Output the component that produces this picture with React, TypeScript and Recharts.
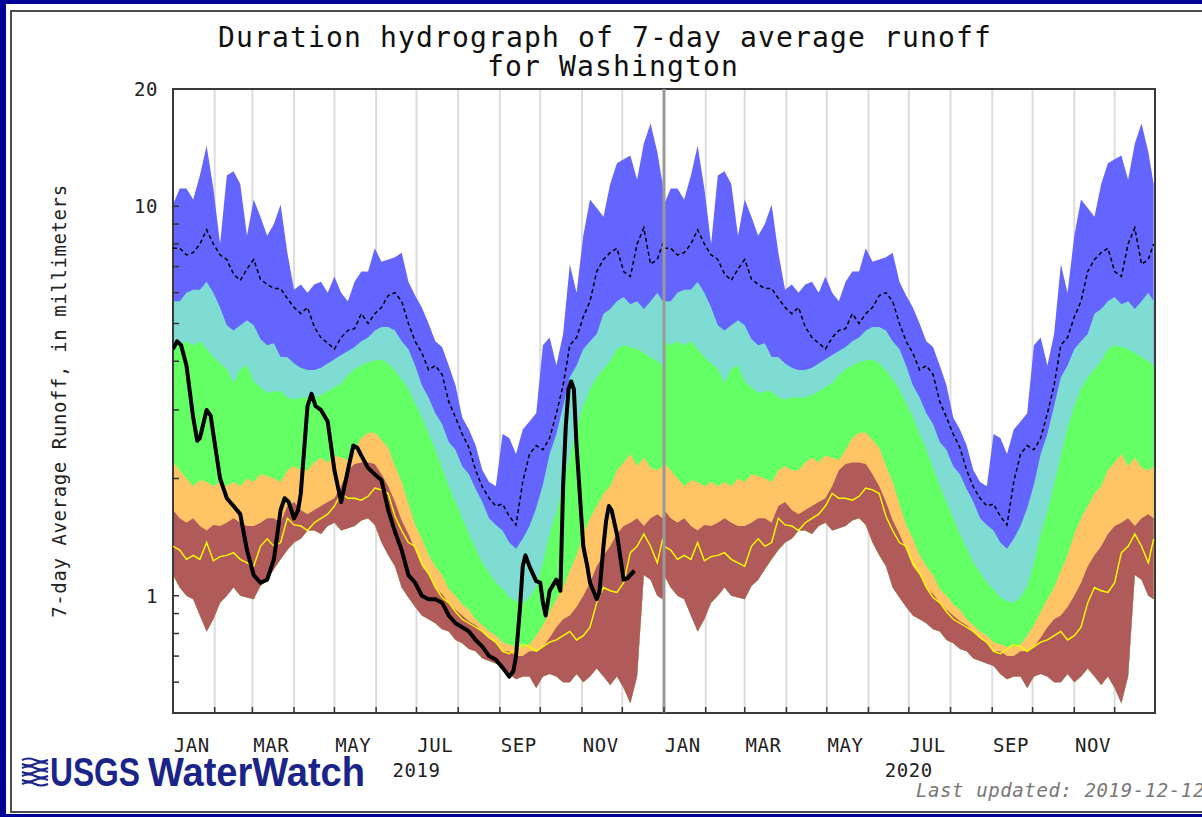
import {
  Area,
  CartesianGrid,
  ComposedChart,
  Line,
  ReferenceArea,
  ReferenceLine,
  XAxis,
  YAxis,
} from "recharts";

// day-of-year sample points for the percentile statistics (same every year)
const STAT_DAYS = [
  0, 5, 10, 15, 20, 25, 30, 35, 40, 45, 50, 55, 60, 65, 70, 75, 80, 85, 90, 95,
  100, 105, 110, 115, 120, 125, 130, 135, 140, 145, 150, 155, 160, 165, 170, 175,
  180, 185, 190, 195, 200, 205, 210, 215, 220, 225, 230, 235, 240, 245, 250, 255,
  260, 265, 270, 275, 280, 285, 290, 295, 300, 305, 310, 315, 320, 325, 330, 335,
  340, 345, 350, 355, 360, 364,
];

const MAX_RUNOFF = [
  10.1, 11.1, 11.1, 10.4, 12.0, 14.3, 11.1, 8.0, 12.0, 12.3, 11.4, 8.4, 10.4, 9.4,
  8.4, 9.0, 10.1, 7.6, 6.1, 6.3, 6.0, 6.3, 6.4, 6.0, 6.6, 6.0, 5.7, 6.4, 6.8, 6.8,
  7.8, 7.2, 7.3, 7.4, 7.6, 6.4, 5.9, 5.5, 5.0, 4.5, 4.35, 3.9, 3.47, 2.87, 2.67,
  2.43, 2.1, 1.96, 1.91, 2.6, 2.54, 2.31, 2.67, 2.8, 2.94, 4.4, 4.6, 3.9, 4.7, 7.1,
  6.0, 8.4, 10.4, 9.9, 9.4, 11.4, 12.9, 13.2, 13.5, 11.7, 14.5, 16.3, 13.8, 11.4,
];

const P90_RUNOFF = [
  5.7, 5.7, 6.0, 6.1, 6.1, 6.4, 6.0, 5.5, 4.95, 4.8, 4.95, 5.1, 4.95, 4.56, 4.4,
  4.45, 4.1, 4.1, 3.95, 3.85, 3.8, 3.8, 3.85, 3.95, 4.05, 4.15, 4.25, 4.35, 4.5,
  4.6, 4.8, 4.9, 4.9, 4.8, 4.5, 4.3, 3.9, 3.47, 3.23, 2.94, 2.76, 2.48, 2.37, 2.15,
  2.05, 1.88, 1.74, 1.58, 1.52, 1.47, 1.37, 1.32, 1.4, 1.51, 1.68, 1.93, 2.31, 2.6,
  3.07, 3.64, 3.9, 4.3, 4.5, 4.7, 5.3, 5.45, 5.7, 5.85, 5.6, 5.7, 5.45, 5.7, 6.0,
  5.7,
];

const P75_RUNOFF = [
  4.5, 4.4, 4.5, 4.4, 4.5, 4.3, 4.1, 3.95, 3.82, 3.51, 3.82, 3.9, 3.55, 3.43, 3.31,
  3.35, 3.35, 3.23, 3.19, 3.23, 3.23, 3.23, 3.27, 3.35, 3.43, 3.51, 3.68, 3.82,
  3.9, 3.98, 4.02, 4.04, 3.95, 3.78, 3.59, 3.39, 3.12, 2.87, 2.6, 2.37, 2.13, 1.91,
  1.74, 1.58, 1.44, 1.32, 1.215, 1.145, 1.08, 1.04, 0.99, 0.97, 0.96, 0.99, 1.06,
  1.215, 1.44, 1.64, 1.93, 2.29, 2.7, 3.07, 3.39, 3.64, 3.82, 4.0, 4.3, 4.4, 4.35,
  4.3, 4.2, 4.1, 4.0, 3.9,
];

const P25_RUNOFF = [
  2.2, 2.1, 2.0, 1.91, 1.98, 1.96, 1.91, 1.96, 1.91, 1.96, 1.91, 2.0, 1.96, 2.05,
  2.03, 2.0, 1.96, 2.1, 2.15, 2.1, 2.1, 2.2, 2.26, 2.2, 2.29, 2.26, 2.23, 2.37,
  2.54, 2.62, 2.62, 2.51, 2.4, 2.15, 1.96, 1.72, 1.52, 1.4, 1.27, 1.19, 1.13, 1.04,
  1.0, 0.95, 0.92, 0.87, 0.84, 0.81, 0.79, 0.76, 0.75, 0.74, 0.74, 0.75, 0.79,
  0.84, 0.91, 0.98, 1.05, 1.16, 1.27, 1.44, 1.58, 1.7, 1.83, 1.91, 2.1, 2.2, 2.31,
  2.15, 2.26, 2.13, 2.1, 2.15,
];

const P10_RUNOFF = [
  1.66, 1.58, 1.54, 1.58, 1.51, 1.47, 1.52, 1.51, 1.54, 1.58, 1.54, 1.51, 1.51,
  1.54, 1.58, 1.58, 1.54, 1.7, 1.74, 1.66, 1.62, 1.66, 1.7, 1.74, 1.78, 1.91, 2.1,
  2.18, 2.2, 2.2, 2.18, 2.05, 1.91, 1.74, 1.56, 1.44, 1.31, 1.19, 1.13, 1.05, 1.01,
  0.96, 0.92, 0.89, 0.86, 0.84, 0.81, 0.78, 0.755, 0.72, 0.72, 0.7, 0.7, 0.72,
  0.72, 0.74, 0.78, 0.83, 0.87, 0.89, 0.935, 1.0, 1.08, 1.19, 1.27, 1.34, 1.44,
  1.51, 1.54, 1.58, 1.51, 1.58, 1.62, 1.58,
];

const MIN_RUNOFF = [
  1.13, 1.05, 1.0, 0.98, 0.89, 0.81, 0.87, 0.96, 1.0, 1.05, 1.0, 0.99, 0.98, 1.06,
  1.1, 1.17, 1.24, 1.31, 1.37, 1.4, 1.47, 1.47, 1.44, 1.51, 1.54, 1.47, 1.49, 1.51,
  1.56, 1.58, 1.52, 1.37, 1.27, 1.19, 1.05, 0.99, 0.935, 0.89, 0.87, 0.85, 0.82,
  0.81, 0.77, 0.755, 0.73, 0.72, 0.69, 0.68, 0.67, 0.66, 0.63, 0.61, 0.62, 0.62,
  0.58, 0.62, 0.63, 0.62, 0.6, 0.6, 0.63, 0.6, 0.62, 0.65, 0.62, 0.59, 0.62, 0.58,
  0.53, 0.62, 1.13, 1.1, 1.0, 0.98,
];

const MEDIAN_LINE = [
  1.34, 1.31, 1.24, 1.27, 1.24, 1.37, 1.23, 1.26, 1.27, 1.29, 1.24, 1.215, 1.19,
  1.34, 1.4, 1.34, 1.37, 1.58, 1.52, 1.51, 1.47, 1.54, 1.58, 1.62, 1.7, 1.83, 1.78,
  1.78, 1.76, 1.8, 1.89, 1.87, 1.83, 1.6, 1.47, 1.37, 1.34, 1.215, 1.145, 1.05,
  0.99, 0.96, 0.91, 0.87, 0.85, 0.83, 0.81, 0.78, 0.76, 0.72, 0.71, 0.73, 0.75,
  0.74, 0.72, 0.74, 0.76, 0.77, 0.79, 0.81, 0.77, 0.79, 0.83, 0.96, 1.05, 1.03,
  1.02, 1.08, 1.29, 1.34, 1.44, 1.34, 1.215, 1.4,
];

const MEAN_LINE = [
  7.8, 7.8, 7.5, 7.6, 8.0, 8.7, 8.0, 7.5, 7.3, 6.7, 6.45, 6.9, 7.3, 6.5, 6.3, 6.15,
  6.15, 5.8, 5.5, 5.3, 5.5, 4.9, 4.6, 4.45, 4.3, 4.6, 4.8, 4.85, 5.3, 5.0, 5.3, 5.5,
  5.9, 6.0, 5.7, 5.0, 4.5, 4.2, 3.8, 3.9, 3.7, 3.15, 2.87, 2.6, 2.4, 2.1, 1.9, 1.78,
  1.7, 1.72, 1.6, 1.52, 1.96, 2.31, 2.43, 2.37, 2.54, 2.94, 3.47, 4.4, 4.6, 5.2,
  5.7, 6.8, 7.3, 7.6, 7.8, 6.8, 6.6, 8.0, 8.8, 7.1, 7.3, 8.0,
];

// 2019 observed 7-day runoff (through 2019-12-10)
const OBS_DAYS = [
  0, 3, 6, 10, 15, 18, 20, 25, 28, 30, 35, 40, 45, 50, 55, 60, 65, 70, 75, 80, 83,
  86, 90, 93, 95, 100, 103, 106, 110, 115, 120, 125, 130, 134, 137, 140, 145, 150,
  155, 160, 165, 170, 175, 180, 185, 190, 195, 200, 205, 210, 215, 220, 225, 230,
  235, 240, 245, 250, 253, 255, 258, 260, 262, 265, 270, 273, 275, 277, 280, 285,
  288, 290, 292, 294, 296, 298, 300, 303, 305, 308, 310, 313, 315, 317, 320, 322,
  324, 326, 330, 335, 338, 340, 343,
];
const OBS_RUNOFF = [
  4.3, 4.5, 4.4, 3.9, 2.87, 2.5, 2.54, 3.0, 2.9, 2.6, 2.0, 1.78, 1.7, 1.62, 1.31,
  1.13, 1.08, 1.1, 1.24, 1.66, 1.78, 1.74, 1.58, 1.66, 1.83, 3.07, 3.3, 3.07, 3.0,
  2.8, 2.1, 1.74, 2.1, 2.43, 2.4, 2.29, 2.13, 2.05, 1.98, 1.66, 1.46, 1.31, 1.13,
  1.08, 1.0, 0.98, 0.98, 0.96, 0.89, 0.85, 0.83, 0.81, 0.77, 0.74, 0.7, 0.685,
  0.654, 0.62, 0.64, 0.7, 0.935, 1.19, 1.27, 1.19, 1.09, 1.08, 0.96, 0.89, 1.03,
  1.1, 1.03, 1.91, 2.73, 3.39, 3.55, 3.39, 2.43, 1.7, 1.34, 1.19, 1.08, 1.02, 0.98,
  1.02, 1.34, 1.56, 1.7, 1.66, 1.44, 1.1, 1.11, 1.13, 1.16,
];

const YEAR_STARTS = [0, 365];
const YEARS = ["2019", "2020"];
const MONTH_STARTS = [
  [0, 31, 59, 90, 120, 151, 181, 212, 243, 273, 304, 334],
  [0, 31, 60, 91, 121, 152, 182, 213, 244, 274, 305, 335],
];
const MONTH_LABELS = ["JAN", "MAR", "MAY", "JUL", "SEP", "NOV"];
const LABEL_DAYS = [
  [14, 73, 134, 195, 257, 318],
  [14, 74, 135, 196, 258, 319],
];
const X_END = 730;

const Y_TICKS = [0.6, 0.7, 0.8, 0.9, 1, 2, 3, 4, 5, 6, 7, 8, 9, 10, 20];
const Y_LABELS = [1, 10, 20];

const MONO = "'DejaVu Sans Mono', monospace";

const statRows = YEAR_STARTS.flatMap((off) =>
  STAT_DAYS.map((d, i) => ({
    day: off + d,
    blue: [MIN_RUNOFF[i], MAX_RUNOFF[i]],
    cyan: [MIN_RUNOFF[i], P90_RUNOFF[i]],
    green: [MIN_RUNOFF[i], P75_RUNOFF[i]],
    orange: [MIN_RUNOFF[i], P25_RUNOFF[i]],
    brown: [MIN_RUNOFF[i], P10_RUNOFF[i]],
    median: MEDIAN_LINE[i],
    mean: MEAN_LINE[i],
  }))
);

const obsRows = OBS_DAYS.map((d, i) => ({ day: d, obs: OBS_RUNOFF[i] }));

const monthStartDays = YEAR_STARTS.flatMap((off, k) => MONTH_STARTS[k].map((d) => off + d));
const tickInfo = new Map<number, { tick?: boolean; label?: string; year?: string }>();
monthStartDays.forEach((d) => tickInfo.set(d, { tick: true }));
YEAR_STARTS.forEach((off, k) => {
  LABEL_DAYS[k].forEach((d, j) => tickInfo.set(off + d, { label: MONTH_LABELS[j] }));
  const jul = off + MONTH_STARTS[k][6];
  tickInfo.set(jul, { tick: true, year: YEARS[k] });
});
const X_TICKS = Array.from(tickInfo.keys()).sort((a, b) => a - b);

function XTick(props: any) {
  const { x, y, payload } = props;
  const info = tickInfo.get(payload.value) || {};
  return (
    <g>
      {info.tick && payload.value > 0 && (
        <line x1={x} x2={x} y1={y} y2={y - 6} stroke="#333" strokeWidth={1.5} />
      )}
      {info.label && (
        <text x={x} y={y + 39} textAnchor="middle" fontFamily={MONO} fontSize={19}
          letterSpacing={0.6} fill="#222">
          {info.label}
        </text>
      )}
      {info.year && (
        <text x={x} y={y + 64} textAnchor="middle" fontFamily={MONO} fontSize={19}
          letterSpacing={0.6} fill="#222">
          {info.year}
        </text>
      )}
    </g>
  );
}

function YTick(props: any) {
  const { x, y, payload } = props;
  const v = payload.value;
  return (
    <g>
      {v < 20 && <line x1={x} x2={x + 6} y1={y} y2={y} stroke="#333" strokeWidth={1.5} />}
      {Y_LABELS.includes(v) && (
        <text x={x - 15} y={y} dominantBaseline="central" textAnchor="end"
          fontFamily={MONO} fontSize={19} letterSpacing={0.6} fill="#222">
          {v}
        </text>
      )}
    </g>
  );
}

function Logo() {
  const waves = [0, 1, 2, 3, 4, 5, 6];
  return (
    <g>
      {waves.map((k) => (
        <path key={k} d={`M22 ${760 + k * 4} q7 ${k % 2 ? 3 : -3} 13 0 t13 0`}
          fill="none" stroke="#1b2589" strokeWidth={2.2} />
      ))}
      <text x={50} y={786} fontFamily="'Liberation Sans', Arial, sans-serif" fontWeight="bold"
        fontSize={40} fill="#1b2589" textLength={90} lengthAdjust="spacingAndGlyphs">
        USGS
      </text>
      <text x={148} y={786} fontFamily="'Liberation Sans', Arial, sans-serif" fontWeight="bold"
        fontSize={40} fill="#1b2589" textLength={217} lengthAdjust="spacingAndGlyphs">
        WaterWatch
      </text>
    </g>
  );
}

export default function App() {
  return (
    <div style={{ position: "absolute", left: 0, top: 0, width: 1202, height: 817,
      overflow: "hidden", background: "#000096" }}>
      <div style={{ position: "absolute", left: 6, top: 4, width: 1210, height: 810,
        background: "#fff" }} />
      <div style={{ position: "absolute", left: 10, top: 10, width: 1250, height: 799,
        border: "2px solid #4d4d4d" }} />
      <div style={{ position: "absolute", left: 0, top: 0 }}>
        <ComposedChart width={1202} height={817} data={statRows}
          margin={{ top: 89, right: 47, bottom: 44, left: 113 }}>
          {/* hidden axis that only carries the month-start gridlines */}
          <XAxis xAxisId="grid" type="number" dataKey="day" domain={[0, X_END]}
            allowDataOverflow ticks={monthStartDays} interval={0} hide />
          <CartesianGrid xAxisId="grid" horizontal={false} stroke="#dcdcdc" strokeWidth={2} />
          <XAxis type="number" dataKey="day" domain={[0, X_END]} allowDataOverflow
            ticks={X_TICKS} interval={0} tick={<XTick />} tickLine={false}
            axisLine={false} tickSize={0} tickMargin={0} height={60} />
          <YAxis type="number" scale="log" domain={[0.5, 20]} allowDataOverflow
            ticks={Y_TICKS} interval={0} tick={<YTick />} tickLine={false}
            axisLine={false} tickSize={0} tickMargin={0} width={60} />
          <Area type="linear" dataKey="blue" fill="#6464ff" fillOpacity={1} stroke="none"
            isAnimationActive={false} />
          <Area type="linear" dataKey="cyan" fill="#7edcd2" fillOpacity={1} stroke="none"
            isAnimationActive={false} />
          <Area type="linear" dataKey="green" fill="#64ff64" fillOpacity={1} stroke="none"
            isAnimationActive={false} />
          <Area type="linear" dataKey="orange" fill="#ffc466" fillOpacity={1} stroke="none"
            isAnimationActive={false} />
          <Area type="linear" dataKey="brown" fill="#b05a5a" fillOpacity={1} stroke="none"
            isAnimationActive={false} />
          <Line type="linear" dataKey="median" stroke="#ffff00" strokeWidth={1.4} dot={false}
            isAnimationActive={false} />
          <Line type="linear" dataKey="mean" stroke="#000" strokeWidth={1.5}
            strokeDasharray="4 3" dot={false} isAnimationActive={false} />
          <ReferenceLine x={365} stroke="#9a9a9a" strokeWidth={3} />
          <Line data={obsRows} type="linear" dataKey="obs" stroke="#000" strokeWidth={4}
            strokeLinejoin="round" dot={false} isAnimationActive={false} />
          <ReferenceArea x1={0} x2={X_END} y1={0.5} y2={20} fill="none" fillOpacity={0}
            stroke="#3a3a3a" strokeWidth={2} ifOverflow="visible" />
        </ComposedChart>
      </div>
      <svg width={1202} height={817} style={{ position: "absolute", left: 0, top: 0 }}>
        <text x={218} y={47} fontFamily={MONO} fontSize={28} letterSpacing={1.14} fill="#111">
          Duration hydrograph of 7-day average runoff
        </text>
        <text x={487} y={76} fontFamily={MONO} fontSize={28} letterSpacing={1.14} fill="#111">
          for Washington
        </text>
        <text transform="translate(66 401) rotate(-90)" textAnchor="middle" fontFamily={MONO}
          fontSize={19} letterSpacing={0.6} fill="#222">
          7-day Average Runoff, in millimeters
        </text>
        <text x={916} y={797} fontFamily={MONO} fontStyle="italic" fontSize={19}
          letterSpacing={0.6} fill="#777">
          Last updated: 2019-12-12
        </text>
        <Logo />
      </svg>
    </div>
  );
}
